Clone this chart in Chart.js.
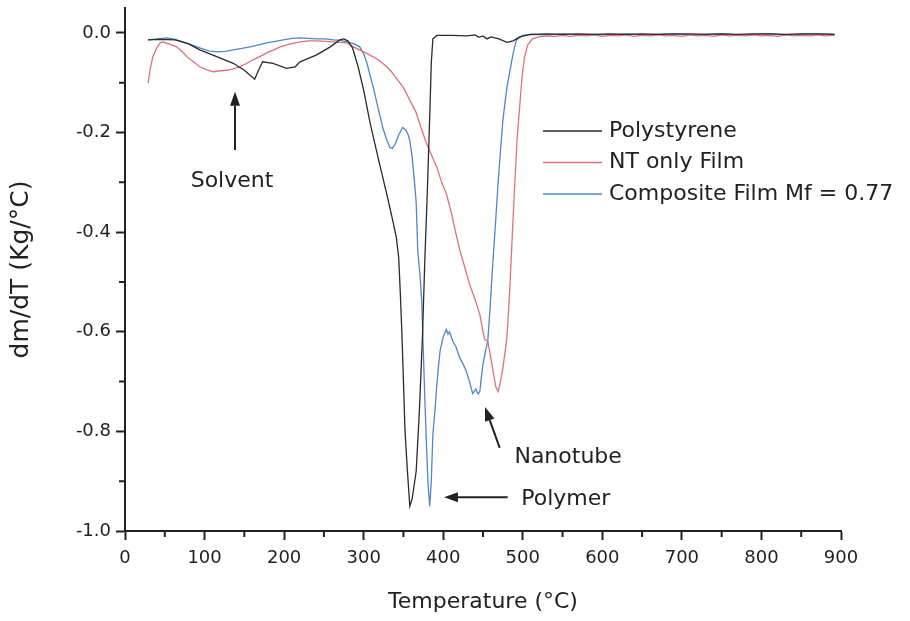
<!DOCTYPE html>
<html>
<head>
<meta charset="utf-8">
<script src="https://cdn.jsdelivr.net/npm/chart.js@4.4.1/dist/chart.umd.min.js"></script>
<style>
  html, body { margin: 0; padding: 0; background: #fff; }
</style>
</head>
<body>
<canvas id="dtgChart" width="910" height="621"></canvas>
<script>
// Polystyrene
const polyTemp = [29, 45, 63, 80, 94, 116, 136, 150, 163, 167, 173, 186, 203, 214, 220, 241, 258, 270, 275, 280, 286, 293, 300, 308, 316, 324, 330, 337, 341, 344, 346, 348, 350, 352, 355, 358, 361, 366, 370, 374, 377, 380, 383, 385, 387, 392, 410, 430, 440, 445, 450, 455, 460, 470, 480, 488, 496, 510, 530, 550, 570, 590, 610, 630, 650, 670, 690, 710, 730, 750, 770, 790, 810, 830, 850, 870, 892];
const polyRate = [-0.014, -0.013, -0.014, -0.022, -0.034, -0.048, -0.061, -0.075, -0.093, -0.078, -0.058, -0.061, -0.071, -0.068, -0.058, -0.044, -0.028, -0.014, -0.012, -0.016, -0.030, -0.068, -0.115, -0.180, -0.236, -0.290, -0.330, -0.380, -0.410, -0.450, -0.520, -0.600, -0.700, -0.800, -0.880, -0.950, -0.935, -0.880, -0.760, -0.605, -0.450, -0.320, -0.170, -0.060, -0.012, -0.005, -0.005, -0.006, -0.004, -0.009, -0.006, -0.012, -0.008, -0.012, -0.019, -0.016, -0.008, -0.003, -0.002, -0.003, -0.002, -0.003, -0.002, -0.003, -0.002, -0.003, -0.002, -0.002, -0.003, -0.002, -0.003, -0.002, -0.002, -0.003, -0.002, -0.002, -0.003];

// NT only Film
const ntTemp = [29, 32, 35, 40, 44, 48, 55, 65, 72, 78, 86, 94, 103, 111, 120, 128, 136, 144, 152, 161, 170, 178, 187, 195, 208, 220, 230, 241, 252, 262, 271, 279, 287, 300, 312, 320, 329, 335, 341, 350, 358, 366, 372, 379, 386, 392, 398, 404, 410, 417, 421, 427, 433, 440, 446, 450, 452, 456, 459, 462, 466, 469, 472, 475, 480, 482, 484, 487, 490, 493, 496, 499, 502, 506, 512, 520, 530, 540, 550, 560, 570, 580, 590, 600, 610, 620, 630, 640, 650, 660, 670, 680, 690, 700, 710, 720, 730, 740, 750, 760, 770, 780, 790, 800, 810, 820, 830, 840, 850, 860, 870, 880, 892];
const ntRate = [-0.101, -0.070, -0.048, -0.030, -0.020, -0.018, -0.022, -0.028, -0.038, -0.048, -0.058, -0.068, -0.074, -0.078, -0.076, -0.075, -0.072, -0.068, -0.062, -0.054, -0.047, -0.040, -0.034, -0.028, -0.022, -0.018, -0.016, -0.016, -0.017, -0.018, -0.019, -0.020, -0.028, -0.038, -0.048, -0.056, -0.068, -0.078, -0.091, -0.110, -0.135, -0.160, -0.190, -0.222, -0.248, -0.270, -0.300, -0.323, -0.360, -0.410, -0.437, -0.470, -0.504, -0.535, -0.565, -0.600, -0.615, -0.619, -0.645, -0.673, -0.710, -0.720, -0.700, -0.673, -0.613, -0.560, -0.504, -0.400, -0.300, -0.210, -0.150, -0.090, -0.050, -0.025, -0.012, -0.008, -0.006, -0.007, -0.005, -0.007, -0.005, -0.006, -0.004, -0.007, -0.005, -0.006, -0.004, -0.007, -0.005, -0.006, -0.004, -0.006, -0.005, -0.007, -0.004, -0.006, -0.005, -0.007, -0.004, -0.006, -0.005, -0.006, -0.004, -0.006, -0.005, -0.007, -0.004, -0.006, -0.005, -0.006, -0.004, -0.006, -0.005];

// Composite Film Mf = 0.77
const compTemp = [29, 40, 53, 63, 73, 84, 94, 105, 116, 126, 136, 147, 157, 168, 178, 189, 199, 210, 220, 231, 241, 252, 262, 271, 279, 288, 295, 300, 304, 308, 312, 318, 324, 329, 333, 336, 340, 344, 349, 353, 356, 358, 361, 364, 366, 368, 371, 373, 375, 377, 379, 381, 383, 385, 387, 390, 392, 394, 396, 400, 404, 406, 408, 412, 416, 421, 425, 429, 433, 437, 441, 444, 446, 448, 450, 453, 456, 459, 462, 465, 469, 472, 475, 480, 484, 488, 492, 500, 510, 530, 550, 570, 590, 610, 630, 650, 670, 690, 710, 730, 750, 770, 790, 810, 830, 850, 870, 892];
const compRate = [-0.014, -0.012, -0.010, -0.013, -0.018, -0.024, -0.030, -0.036, -0.038, -0.037, -0.034, -0.031, -0.028, -0.024, -0.020, -0.017, -0.014, -0.011, -0.010, -0.011, -0.012, -0.012, -0.014, -0.015, -0.018, -0.022, -0.028, -0.042, -0.060, -0.085, -0.109, -0.150, -0.190, -0.215, -0.230, -0.232, -0.222, -0.205, -0.190, -0.195, -0.205, -0.216, -0.250, -0.302, -0.340, -0.437, -0.490, -0.538, -0.640, -0.740, -0.830, -0.907, -0.950, -0.900, -0.806, -0.750, -0.706, -0.670, -0.639, -0.610, -0.595, -0.605, -0.600, -0.619, -0.630, -0.653, -0.665, -0.679, -0.700, -0.724, -0.715, -0.725, -0.720, -0.690, -0.665, -0.640, -0.619, -0.550, -0.470, -0.400, -0.300, -0.236, -0.175, -0.110, -0.075, -0.040, -0.014, -0.005, -0.003, -0.004, -0.002, -0.004, -0.003, -0.004, -0.002, -0.004, -0.003, -0.002, -0.004, -0.003, -0.002, -0.004, -0.003, -0.002, -0.004, -0.003, -0.002, -0.003];

const seriesLabels = ['Polystyrene', 'NT only Film', 'Composite Film Mf = 0.77'];
const xMajorTicks = [0, 100, 200, 300, 400, 500, 600, 700, 800, 900];
const xMinorTicks = [50, 150, 250, 350, 450, 550, 650, 750, 850];
const yMajorTicks = [-1.0, -0.8, -0.6, -0.4, -0.2, 0.0];
const yMinorTicks = [-0.9, -0.7, -0.5, -0.3, -0.1];

const FONT = '"DejaVu Sans", sans-serif';
const INK = '#222';

function toPoints(xs, ys) {
    return xs.map((x, i) => ({ x: x, y: ys[i] }));
}

// annotations in data coordinates
const notes = [
    { text: 'Solvent', x: 134.5, y: -0.297, align: 'center', arrow: [138.3, -0.235, 138.3, -0.118] },
    { text: 'Polymer', x: 498, y: -0.936, align: 'left', arrow: [481, -0.932, 401, -0.932] },
    { text: 'Nanotube', x: 557, y: -0.853, align: 'center', arrow: [471, -0.833, 452.5, -0.751] }
];

const minorTicks = {
    id: 'minorTicks',
    afterDraw(chart) {
        const { ctx, scales: { x, y } } = chart;
        ctx.save();
        ctx.strokeStyle = INK;
        ctx.lineWidth = 2;
        ctx.beginPath();
        xMinorTicks.forEach(v => {
            const px = x.getPixelForValue(v);
            ctx.moveTo(px, y.bottom);
            ctx.lineTo(px, y.bottom + 6);
        });
        yMinorTicks.forEach(v => {
            const py = y.getPixelForValue(v);
            ctx.moveTo(x.left, py);
            ctx.lineTo(x.left - 6, py);
        });
        ctx.stroke();
        ctx.restore();
    }
};

const notesPlugin = {
    id: 'notes',
    afterDatasetsDraw(chart) {
        const { ctx, scales: { x, y } } = chart;
        ctx.save();
        ctx.font = '22px ' + FONT;
        ctx.fillStyle = INK;
        ctx.strokeStyle = INK;
        ctx.textBaseline = 'middle';
        notes.forEach(n => {
            ctx.textAlign = n.align;
            ctx.fillText(n.text, x.getPixelForValue(n.x), y.getPixelForValue(n.y));
            const x0 = x.getPixelForValue(n.arrow[0]), y0 = y.getPixelForValue(n.arrow[1]);
            const x1 = x.getPixelForValue(n.arrow[2]), y1 = y.getPixelForValue(n.arrow[3]);
            const ang = Math.atan2(y1 - y0, x1 - x0);
            const head = 14, half = 5;
            const bx = x1 - head * Math.cos(ang), by = y1 - head * Math.sin(ang);
            ctx.lineWidth = 2;
            ctx.beginPath();
            ctx.moveTo(x0, y0);
            ctx.lineTo(bx, by);
            ctx.stroke();
            ctx.beginPath();
            ctx.moveTo(x1, y1);
            ctx.lineTo(bx + half * Math.sin(ang), by - half * Math.cos(ang));
            ctx.lineTo(bx - half * Math.sin(ang), by + half * Math.cos(ang));
            ctx.closePath();
            ctx.fill();
        });
        ctx.restore();
    }
};

const lineLegend = {
    id: 'lineLegend',
    afterDraw(chart) {
        const ctx = chart.ctx;
        ctx.save();
        ctx.font = '22px ' + FONT;
        ctx.textBaseline = 'middle';
        ctx.textAlign = 'left';
        chart.data.datasets.forEach((ds, i) => {
            const yy = 131 + i * 31.5;
            ctx.strokeStyle = ds.borderColor;
            ctx.lineWidth = 1.5;
            ctx.beginPath();
            ctx.moveTo(543, yy);
            ctx.lineTo(602, yy);
            ctx.stroke();
            ctx.fillStyle = INK;
            ctx.fillText(ds.label, 609, yy);
        });
        ctx.restore();
    }
};

new Chart(document.getElementById('dtgChart'), {
    type: 'line',
    data: {
        datasets: [{
            label: seriesLabels[0],
            data: toPoints(polyTemp, polyRate),
            borderColor: '#2b2b2b',
            borderWidth: 1.3,
            pointRadius: 0
        }, {
            label: seriesLabels[1],
            data: toPoints(ntTemp, ntRate),
            borderColor: '#e0707c',
            borderWidth: 1.3,
            pointRadius: 0
        }, {
            label: seriesLabels[2],
            data: toPoints(compTemp, compRate),
            borderColor: '#4f86cc',
            borderWidth: 1.3,
            pointRadius: 0
        }]
    },
    options: {
        responsive: false,
        animation: false,
        layout: { padding: { top: 8, right: 69, left: 0, bottom: 0 } },
        plugins: {
            legend: { display: false },
            tooltip: { enabled: false }
        },
        scales: {
            x: {
                type: 'linear',
                min: 0,
                max: 900,
                afterFit: s => { s.height = 90; },
                afterBuildTicks: s => { s.ticks = xMajorTicks.map(v => ({ value: v })); },
                border: { display: true, color: INK, width: 2 },
                grid: { drawOnChartArea: false, drawTicks: true, tickLength: 9, tickWidth: 2, tickColor: INK },
                ticks: {
                    color: INK,
                    padding: 8,
                    maxRotation: 0,
                    font: { family: FONT, size: 18 },
                    callback: v => String(v)
                },
                title: {
                    display: true,
                    text: 'Temperature (°C)',
                    color: INK,
                    font: { family: FONT, size: 22 },
                    padding: { top: 0, bottom: 6 }
                }
            },
            y: {
                min: -1.0,
                max: 0.05,
                afterFit: s => { s.width = 125; s.paddingTop = 0; s.paddingBottom = 0; },
                afterBuildTicks: s => { s.ticks = yMajorTicks.map(v => ({ value: v })); },
                border: { display: true, color: INK, width: 2 },
                grid: { drawOnChartArea: false, drawTicks: true, tickLength: 9, tickWidth: 2, tickColor: INK },
                ticks: {
                    color: INK,
                    padding: 5,
                    font: { family: FONT, size: 18 },
                    callback: v => v.toFixed(1)
                },
                title: {
                    display: true,
                    text: 'dm/dT (Kg/°C)',
                    color: INK,
                    font: { family: FONT, size: 25 },
                    padding: { top: 6, bottom: 0 }
                }
            }
        }
    },
    plugins: [minorTicks, notesPlugin, lineLegend]
});
</script>
</body>
</html>
